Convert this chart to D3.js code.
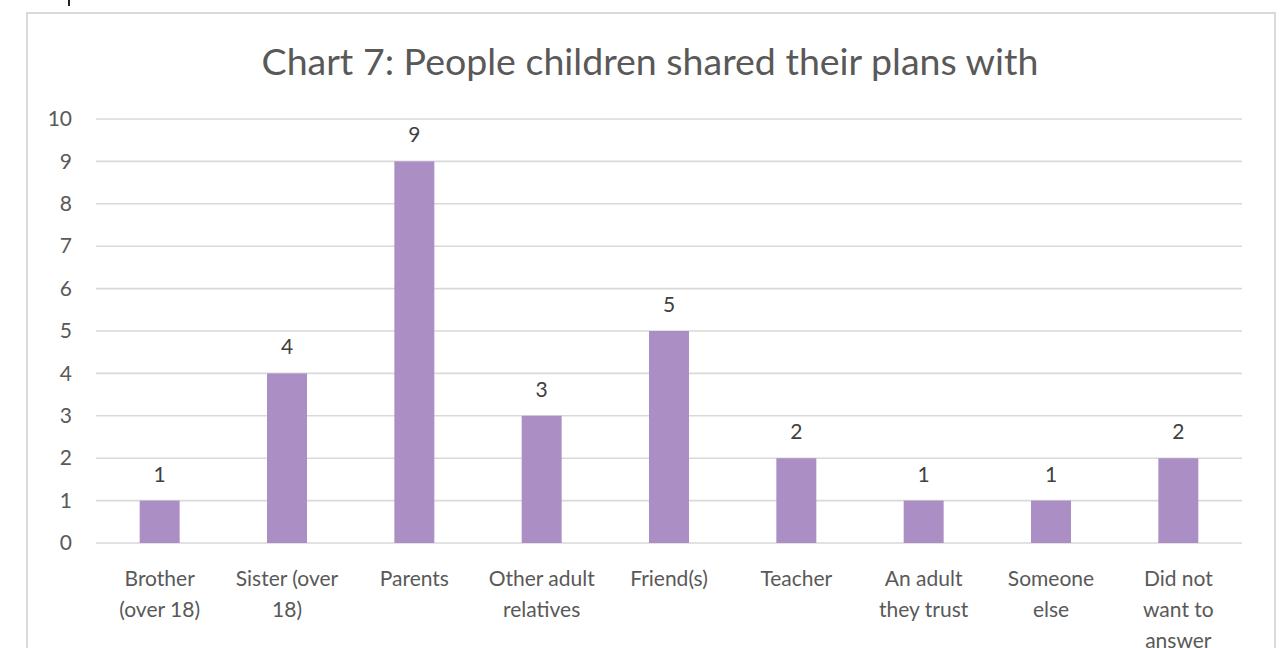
<!DOCTYPE html>
<html>
<head>
<meta charset="utf-8">
<script src="https://cdn.jsdelivr.net/npm/d3@7"></script>
<style>
  html, body { margin: 0; padding: 0; background: #fff; }
  svg { display: block; font-family: Lato, "Open Sans", sans-serif; }
  .grid line { stroke: #d9d9d9; stroke-width: 1.6; }
  .y-axis text, .x-axis text { fill: #595959; font-size: 21px; }
  .value-label { fill: #404040; font-size: 21px; }
  .chart-title { fill: #595959; font-size: 37.5px; }
</style>
</head>
<body>
<div id="chart"></div>
<script>
const categories = [
  'Brother\n(over 18)', 'Sister (over\n18)', 'Parents', 'Other adult\nrelatives',
  'Friend(s)', 'Teacher', 'An adult\nthey trust', 'Someone\nelse', 'Did not\nwant to\nanswer'
];
const counts = [1, 4, 9, 3, 5, 2, 1, 1, 2];
const yTicks = [0, 1, 2, 3, 4, 5, 6, 7, 8, 9, 10];
const chartTitle = 'Chart 7: People children shared their plans with';

const width = 1284, height = 648;
const plot = { left: 96, right: 1242, top: 119, bottom: 543 };

const svg = d3.select('#chart').append('svg')
  .attr('width', width)
  .attr('height', height);

// outer chart frame
svg.append('rect')
  .attr('x', 27).attr('y', 13)
  .attr('width', 1248).attr('height', 660)
  .attr('fill', 'none')
  .attr('stroke', '#d9d9d9')
  .attr('stroke-width', 2);

// little mark above the frame
svg.append('rect')
  .attr('x', 68).attr('y', 0)
  .attr('width', 2).attr('height', 6)
  .attr('fill', '#222');

svg.append('text')
  .attr('class', 'chart-title')
  .attr('x', 650).attr('y', 75)
  .attr('text-anchor', 'middle')
  .text(chartTitle);

const data = categories.map((c, i) => ({ category: c, value: counts[i] }));

const x = d3.scaleBand()
  .domain(categories)
  .range([plot.left, plot.right])
  .paddingInner(0.686)
  .paddingOuter(0.343);

const y = d3.scaleLinear()
  .domain([0, 10])
  .range([plot.bottom, plot.top]);

// gridlines
svg.append('g')
  .attr('class', 'grid')
  .selectAll('line')
  .data(yTicks)
  .join('line')
  .attr('x1', plot.left)
  .attr('x2', plot.right)
  .attr('y1', d => y(d))
  .attr('y2', d => y(d));

// y axis labels
const yAxis = svg.append('g')
  .attr('class', 'y-axis')
  .attr('transform', `translate(${plot.left},0)`)
  .call(d3.axisLeft(y).tickValues(yTicks).tickSize(0).tickPadding(24))
  .attr('font-family', null)
  .attr('font-size', null);
yAxis.select('.domain').remove();

// bars
svg.append('g')
  .selectAll('rect')
  .data(data)
  .join('rect')
  .attr('x', d => x(d.category))
  .attr('width', x.bandwidth())
  .attr('y', d => y(d.value))
  .attr('height', d => y(0) - y(d.value))
  .attr('fill', '#ab8ec3');

// value labels
svg.append('g')
  .selectAll('text')
  .data(data)
  .join('text')
  .attr('class', 'value-label')
  .attr('x', d => x(d.category) + x.bandwidth() / 2)
  .attr('y', d => y(d.value) - 19)
  .attr('text-anchor', 'middle')
  .text(d => d.value);

// x axis labels, multi-line
const xAxis = svg.append('g')
  .attr('class', 'x-axis')
  .attr('transform', `translate(0,${plot.bottom})`)
  .call(d3.axisBottom(x).tickSize(0).tickFormat(''))
  .attr('font-family', null)
  .attr('font-size', null);
xAxis.select('.domain').remove();
xAxis.selectAll('.tick text').remove();
xAxis.selectAll('.tick')
  .append('text')
  .attr('text-anchor', 'middle')
  .each(function(d) {
    const t = d3.select(this);
    d.split('\n').forEach((line, i) => {
      t.append('tspan')
        .attr('x', 0)
        .attr('y', 43 + i * 31)
        .text(line);
    });
  });
</script>
</body>
</html>
